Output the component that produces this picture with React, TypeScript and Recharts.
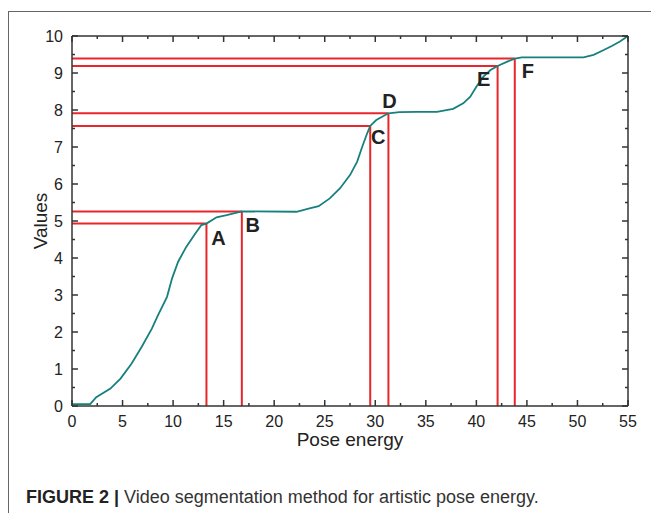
import React from 'react';
import { LineChart, Line, XAxis, YAxis, ReferenceLine, ReferenceDot } from 'recharts';

// curve
const poseEnergy = [
  0, 1.8, 2.4, 3.8, 4.8, 5.9, 6.9, 7.9, 8.5, 9.4,
  9.9, 10.5, 11.3, 12.2, 12.8, 13.3, 14.3, 15.3, 16.8, 22.2,
  23.5, 24.4, 25.5, 26.5, 27.5, 28.2, 28.7, 29.2, 29.5, 30.1,
  31.3, 32.4, 34.1, 36.1, 37.7, 38.7, 39.4, 40.0, 40.7, 41.4,
  42.1, 43.0, 43.8, 44.5, 50.6, 51.6, 52.6, 53.4, 54.2, 55,
];
const values = [
  0.05, 0.05, 0.24, 0.47, 0.74, 1.15, 1.6, 2.09, 2.45, 2.95,
  3.45, 3.9, 4.3, 4.66, 4.89, 4.93, 5.1, 5.16, 5.26, 5.25,
  5.34, 5.4, 5.61, 5.88, 6.24, 6.6, 7.0, 7.37, 7.57, 7.73,
  7.91, 7.94, 7.95, 7.95, 8.03, 8.18, 8.36, 8.63, 8.9, 9.08,
  9.19, 9.3, 9.39, 9.42, 9.42, 9.49, 9.62, 9.73, 9.85, 10,
];

// segmentation points
const markerNames = ['A', 'B', 'C', 'D', 'E', 'F'];
const markerX = [13.3, 16.8, 29.5, 31.3, 42.1, 43.8];
const markerY = [4.93, 5.26, 7.57, 7.91, 9.19, 9.39];

const xTicks = [0, 5, 10, 15, 20, 25, 30, 35, 40, 45, 50, 55];
const yTicks = [0, 1, 2, 3, 4, 5, 6, 7, 8, 9, 10];
const xMinorTicks = [0, 2.5, 5, 7.5, 10, 12.5, 15, 17.5, 20, 22.5, 25, 27.5, 30, 32.5, 35, 37.5, 40, 42.5, 45, 47.5, 50, 52.5, 55];
const yMinorTicks = [0, 0.5, 1, 1.5, 2, 2.5, 3, 3.5, 4, 4.5, 5, 5.5, 6, 6.5, 7, 7.5, 8, 8.5, 9, 9.5, 10];

const data = poseEnergy.map((e, i) => ({ e, v: values[i] }));

// pixel nudges for the letter labels
const labelOffsets = [[12, 14], [11, 14], [8, 11], [1, -12], [-14, 13], [13, 12]];

const AXIS = '#333';
const RED = '#e8262b';
const TEAL = '#17807e';
const FONT = '"Liberation Sans", Arial, Helvetica, sans-serif';

// inward tick marks, drawn by mirrored axes
const inTick = (dir: 'up' | 'down' | 'left' | 'right', step: number) => (props: any) => {
  const { x, y, payload } = props;
  const major = Math.abs(payload.value / step - Math.round(payload.value / step)) < 1e-6;
  const len = major ? 6 : 3;
  const dx = dir === 'right' ? len : dir === 'left' ? -len : 0;
  const dy = dir === 'down' ? len : dir === 'up' ? -len : 0;
  return <line x1={x} y1={y} x2={x + dx} y2={y + dy} stroke={AXIS} strokeWidth={1.5} />;
};
const tickUp = inTick('up', 5);
const tickDown = inTick('down', 5);
const tickRight = inTick('right', 1);
const tickLeft = inTick('left', 1);

const letter = (name: string, off: number[]) => (props: any) => (
  <text
    x={props.cx + off[0]}
    y={props.cy + off[1]}
    textAnchor="middle"
    dominantBaseline="central"
    fontSize={20}
    fontWeight="bold"
    fill="#222"
    fontFamily={FONT}
  >
    {name}
  </text>
);

export default function App() {
  return (
    <div style={{ position: 'relative', width: 651, height: 505, fontFamily: FONT }}>
      <div
        style={{
          position: 'absolute', left: 0, top: 3, width: 651, height: 502, boxSizing: 'border-box',
          borderTop: '1px solid #666', borderLeft: '1px solid #666',
        }}
      />
      <div style={{ position: 'absolute', left: 0, top: 0 }}>
        <LineChart width={651} height={460} data={data} margin={{ top: 28, right: 31, bottom: 12, left: 0 }}>
          <XAxis
            xAxisId="x" dataKey="e" type="number" domain={[0, 55]} ticks={xTicks} interval={0}
            height={50} tickLine={false} tickSize={6} tickMargin={4}
            stroke={AXIS} strokeWidth={1.5}
            tick={{ fill: '#222', fontSize: 16, fontFamily: FONT }}
            label={{ value: 'Pose energy', position: 'insideBottom', offset: 10, fill: '#222', fontSize: 19, fontFamily: FONT }}
          />
          <XAxis
            xAxisId="xb" dataKey="e" type="number" domain={[0, 55]} ticks={xMinorTicks} interval={0}
            mirror height={1} tickSize={0} tickMargin={0} axisLine={false} tickLine={false} tick={tickUp}
          />
          <XAxis
            xAxisId="xt" dataKey="e" orientation="top" type="number" domain={[0, 55]} ticks={xMinorTicks} interval={0}
            mirror height={1} tickSize={0} tickMargin={0} tickLine={false}
            stroke={AXIS} strokeWidth={1.5} tick={tickDown}
          />
          <YAxis
            yAxisId="y" type="number" domain={[0, 10]} ticks={yTicks} interval={0}
            width={64} tickLine={false} tickSize={6} tickMargin={3}
            stroke={AXIS} strokeWidth={1.5}
            tick={{ fill: '#222', fontSize: 16, fontFamily: FONT }}
            label={{ value: 'Values', angle: -90, position: 'insideLeft', offset: 32, fill: '#222', fontSize: 19, fontFamily: FONT, style: { textAnchor: 'middle' } }}
          />
          <YAxis
            yAxisId="yl" type="number" domain={[0, 10]} ticks={yMinorTicks} interval={0}
            mirror width={1} tickSize={0} tickMargin={0} axisLine={false} tickLine={false} tick={tickRight}
          />
          <YAxis
            yAxisId="yr" orientation="right" type="number" domain={[0, 10]} ticks={yMinorTicks} interval={0}
            mirror width={1} tickSize={0} tickMargin={0} tickLine={false}
            stroke={AXIS} strokeWidth={1.5} tick={tickLeft}
          />
          {markerX.map((mx, i) => (
            <ReferenceLine
              key={'h' + i} xAxisId="x" yAxisId="y" stroke={RED} strokeWidth={2}
              segment={[{ x: 0, y: markerY[i] }, { x: mx, y: markerY[i] }]}
            />
          ))}
          {markerX.map((mx, i) => (
            <ReferenceLine
              key={'v' + i} xAxisId="x" yAxisId="y" stroke={RED} strokeWidth={2}
              segment={[{ x: mx, y: 0 }, { x: mx, y: markerY[i] }]}
            />
          ))}
          <Line
            xAxisId="x" yAxisId="y" dataKey="v" type="linear" stroke={TEAL} strokeWidth={1.8}
            dot={false} activeDot={false} isAnimationActive={false}
          />
          <Line
            xAxisId="xt" yAxisId="yr" dataKey="v" type="linear" stroke="none" strokeWidth={0}
            dot={false} activeDot={false} isAnimationActive={false} legendType="none"
          />
          <Line
            xAxisId="xb" yAxisId="yl" dataKey="v" type="linear" stroke="none" strokeWidth={0}
            dot={false} activeDot={false} isAnimationActive={false} legendType="none"
          />
          {markerNames.map((name, i) => (
            <ReferenceDot
              key={name} xAxisId="x" yAxisId="y" x={markerX[i]} y={markerY[i]} r={0}
              shape={letter(name, labelOffsets[i])}
            />
          ))}
        </LineChart>
      </div>
      <div
        style={{
          position: 'absolute', left: 18, top: 480, fontSize: 18, lineHeight: '18px',
          color: '#333', whiteSpace: 'nowrap',
        }}
      >
        <b style={{ color: '#222' }}>FIGURE 2 | </b>Video segmentation method for artistic pose energy.
      </div>
    </div>
  );
}
